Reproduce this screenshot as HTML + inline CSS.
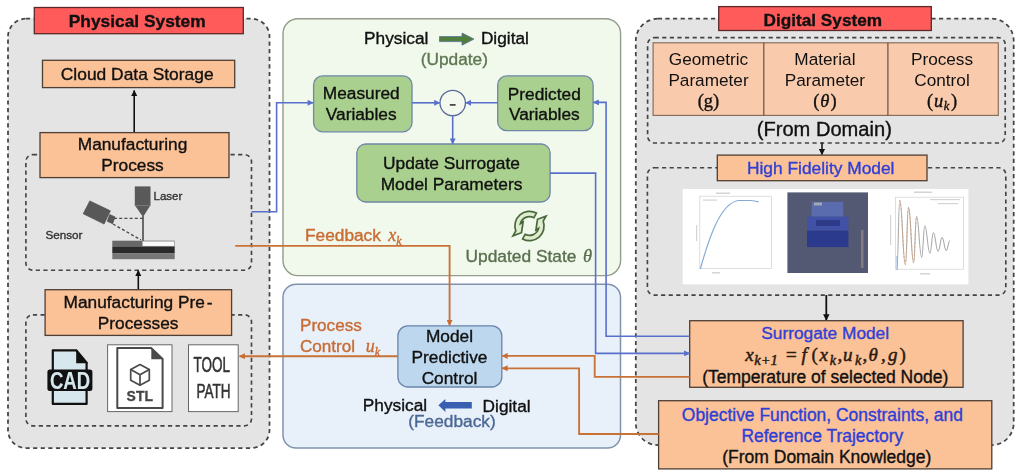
<!DOCTYPE html>
<html><head><meta charset="utf-8">
<style>
html,body{margin:0;padding:0;background:#fff;width:1024px;height:475px;overflow:hidden}
svg{display:block;filter:blur(0.5px)}
text{font-family:"Liberation Sans",sans-serif}
.s{font-family:"Liberation Serif",serif;font-style:italic}
.r{font-family:"Liberation Serif",serif}
</style></head><body>
<svg width="1024" height="475" viewBox="0 0 1024 475">
<defs>
<marker id="ab" viewBox="0 0 10 10" refX="9" refY="5" markerWidth="6.5" markerHeight="6" orient="auto" markerUnits="userSpaceOnUse"><path d="M0,0 L10,5 L0,10 z" fill="#5870cc"/></marker>
<marker id="ao" viewBox="0 0 10 10" refX="9" refY="5" markerWidth="6" markerHeight="6" orient="auto" markerUnits="userSpaceOnUse"><path d="M0,0 L10,5 L0,10 z" fill="#c96b33"/></marker>
<marker id="ak" viewBox="0 0 10 10" refX="9" refY="5" markerWidth="6.5" markerHeight="7" orient="auto" markerUnits="userSpaceOnUse"><path d="M0,0 L10,5 L0,10 z" fill="#111"/></marker>
</defs>

<!-- ============ PHYSICAL SYSTEM ============ -->
<rect x="8" y="18.7" width="261.5" height="429.3" rx="18" fill="#e5e4e5" stroke="#444" stroke-width="1.75" stroke-dasharray="4.2 3.4"/>
<rect x="34.3" y="7.5" width="209" height="26.2" fill="#ff5b5b" stroke="#5a2a2a" stroke-width="1.3"/>
<text x="137.2" y="26.9" font-size="17.35" font-weight="bold" text-anchor="middle" fill="#111" stroke="#111" stroke-width="0.36">Physical System</text>

<rect x="42.5" y="60.3" width="192.2" height="27.3" fill="#fbc298" stroke="#4e3e34" stroke-width="1.3"/>
<text x="137.2" y="80" font-size="17.4" text-anchor="middle" fill="#111" stroke="#111" stroke-width="0.36">Cloud Data Storage</text>

<line x1="134.2" y1="132.6" x2="134.2" y2="90.6" stroke="#111" stroke-width="1.6" marker-end="url(#ak)"/>

<rect x="25.9" y="154.6" width="225.6" height="115.6" rx="7" fill="none" stroke="#444" stroke-width="1.65" stroke-dasharray="4.2 3.4"/>
<rect x="40" y="132.6" width="189" height="45" fill="#fbc298" stroke="#4e3e34" stroke-width="1.3"/>
<text x="132.5" y="150.2" font-size="17.3" text-anchor="middle" fill="#111" stroke="#111" stroke-width="0.36">Manufacturing</text>
<text x="132.5" y="170.5" font-size="17.3" text-anchor="middle" fill="#111" stroke="#111" stroke-width="0.36">Process</text>

<!-- laser illustration -->
<rect x="134.8" y="186.4" width="15.7" height="18.9" fill="#595959"/>
<polygon points="134.8,205.3 150.5,205.3 143,217" fill="#595959"/>
<line x1="134.8" y1="205.6" x2="150.5" y2="205.6" stroke="#777" stroke-width="0.8"/>
<line x1="143" y1="216" x2="143" y2="241" stroke="#6a6a6a" stroke-width="2"/>
<text x="153.5" y="200.3" font-size="11.5" fill="#333" stroke="#333" stroke-width="0.36">Laser</text>
<polygon points="89.8,200.9 110.4,210.8 104.1,224.1 83.2,213.8" fill="#585858" stroke="#444" stroke-width="0.6"/>
<polygon points="109.7,214.5 115,216.9 112.6,223.7 107.3,221.3" fill="#585858" stroke="#3a3a3a" stroke-width="0.6"/>
<line x1="114" y1="218.4" x2="143" y2="218.4" stroke="#4a4a4a" stroke-width="1.4" stroke-dasharray="3 2.2"/>
<line x1="113" y1="224" x2="141" y2="240" stroke="#4a4a4a" stroke-width="1.4" stroke-dasharray="3 2.2"/>
<rect x="112.3" y="240.7" width="62.4" height="6" fill="#686868"/>
<rect x="142.5" y="241.2" width="31.8" height="5" fill="#fafafa" stroke="#aaa" stroke-width="0.6"/>
<rect x="112.3" y="246.6" width="62.4" height="6.8" fill="#2a2a2a"/>
<rect x="112.3" y="253.3" width="62.4" height="5.9" fill="#777"/>
<text x="45.4" y="238.7" font-size="11.7" fill="#333" stroke="#333" stroke-width="0.36">Sensor</text>

<line x1="138.3" y1="289.7" x2="138.3" y2="270.6" stroke="#111" stroke-width="1.6" marker-end="url(#ak)"/>

<rect x="25.9" y="314.8" width="225.6" height="111" rx="7" fill="none" stroke="#444" stroke-width="1.65" stroke-dasharray="4.2 3.4"/>
<rect x="45.1" y="289.7" width="186.5" height="45.7" fill="#fbc298" stroke="#4e3e34" stroke-width="1.3"/>
<text x="138.1" y="308.4" font-size="17.3" text-anchor="middle" fill="#111" stroke="#111" stroke-width="0.36">Manufacturing Pre<tspan dx="2">-</tspan></text>
<text x="138.1" y="328.8" font-size="17.3" text-anchor="middle" fill="#111" stroke="#111" stroke-width="0.36">Processes</text>

<!-- CAD icon -->
<path d="M52.8,350.3 L76.2,350.3 L86.6,362.8 L86.6,403.9 L52.8,403.9 Z" fill="#d6e8ee" stroke="#111" stroke-width="2.2" stroke-linejoin="round"/>
<polygon points="76.2,349.3 88,363.3 76.2,363.3" fill="#111"/>
<rect x="47.4" y="369.4" width="45" height="21.5" rx="2.5" fill="#111"/>
<text transform="translate(70.0,389.0) scale(0.8,1)" font-size="23.2" font-weight="bold" text-anchor="middle" fill="#d6e8ee" stroke="#d6e8ee" stroke-width="0.1">CAD</text>

<!-- STL icon -->
<rect x="107.6" y="344.8" width="64.4" height="66.8" fill="#fff" stroke="#666" stroke-width="1"/>
<path d="M117.3,348.1 L151.3,348.1 L162.6,359 L162.6,408 L117.3,408 Z" fill="#fff" stroke="#4a4a4a" stroke-width="2" stroke-linejoin="round"/>
<polygon points="151.3,347.3 163.6,359.3 151.3,359.3" fill="#4a4a4a"/>
<g fill="none" stroke="#4a4a4a" stroke-width="1.7" stroke-linejoin="round">
<path d="M140,364.5 L149.3,369.6 L149.3,380.2 L140,385.3 L130.7,380.2 L130.7,369.6 Z"/>
<path d="M130.7,369.6 L140,374.8 L149.3,369.6 M140,374.8 L140,385.3"/>
</g>
<text transform="translate(139.8,401) scale(0.92,1)" font-size="15.2" font-weight="bold" text-anchor="middle" fill="#444" stroke="#444" stroke-width="0.3">STL</text>

<!-- TOOL PATH -->
<rect x="188.5" y="344.8" width="49.7" height="66.8" fill="#fff" stroke="#666" stroke-width="1"/>
<text transform="translate(211.7,372.4) scale(0.63,1)" font-size="21.4" text-anchor="middle" fill="#333" stroke="#333" stroke-width="0.6">TOOL</text>
<text transform="translate(213.5,397.6) scale(0.66,1)" font-size="20.5" text-anchor="middle" fill="#333" stroke="#333" stroke-width="0.6">PATH</text>

<!-- ============ GREEN (UPDATE) ============ -->
<rect x="283" y="18.7" width="337.6" height="256.9" rx="15" fill="#f1f9ec" stroke="#939b8a" stroke-width="1.4"/>
<text x="364.1" y="44.4" font-size="17.3" fill="#111" stroke="#111" stroke-width="0.36">Physical</text>
<path d="M439.5,36.6 L462,36.6 L462,33 L474,39.1 L462,45.2 L462,41.6 L439.5,41.6 Z" fill="#4f7f3a" stroke="#5a6f9a" stroke-width="0.8"/>
<text x="480.9" y="44.4" font-size="17.3" fill="#111" stroke="#111" stroke-width="0.36">Digital</text>
<text x="454.3" y="64.6" font-size="17.3" text-anchor="middle" fill="#5e7852" stroke="#5e7852" stroke-width="0.36">(Update)</text>

<rect x="313.6" y="75.9" width="98.4" height="55.9" rx="9" fill="#a9d08e" stroke="#6f86a6" stroke-width="1.3"/>
<text x="361.2" y="99.3" font-size="17.3" text-anchor="middle" fill="#111" stroke="#111" stroke-width="0.36">Measured</text>
<text x="361.2" y="120.4" font-size="17.3" text-anchor="middle" fill="#111" stroke="#111" stroke-width="0.36">Variables</text>

<rect x="497.7" y="75.9" width="95.4" height="54.8" rx="9" fill="#a9d08e" stroke="#6f86a6" stroke-width="1.3"/>
<text x="544.3" y="99.5" font-size="17.3" text-anchor="middle" fill="#111" stroke="#111" stroke-width="0.36">Predicted</text>
<text x="544.3" y="119.7" font-size="17.3" text-anchor="middle" fill="#111" stroke="#111" stroke-width="0.36">Variables</text>

<circle cx="452.7" cy="103" r="12.7" fill="#f3f9ef" stroke="#5a6a9a" stroke-width="1.3"/>
<line x1="449.8" y1="104.9" x2="455.6" y2="104.9" stroke="#4a4a4a" stroke-width="1.8"/>

<rect x="356.8" y="144" width="193.3" height="58" rx="9" fill="#a9d08e" stroke="#6f86a6" stroke-width="1.3"/>
<text x="451.5" y="169.4" font-size="17.35" text-anchor="middle" fill="#111" stroke="#111" stroke-width="0.36">Update Surrogate</text>
<text x="451.5" y="189.8" font-size="17.35" text-anchor="middle" fill="#111" stroke="#111" stroke-width="0.36">Model Parameters</text>

<!-- refresh icon -->
<g fill="#dfeccf" stroke="#4a693a" stroke-width="1.7" stroke-linejoin="miter">
<path d="M536.4,213.1 A14.6,14.6 0 0 0 515.8,231.0 L513.0,235.9 L521.5,232.7 L523.1,222.0 L520.4,223.6 A9.4,9.4 0 0 1 533.9,217.7 Z"/>
<path transform="rotate(180 529.5 226)" d="M536.4,213.1 A14.6,14.6 0 0 0 515.8,231.0 L513.0,235.9 L521.5,232.7 L523.1,222.0 L520.4,223.6 A9.4,9.4 0 0 1 533.9,217.7 Z"/>
</g>
<text x="465.5" y="261.5" font-size="17.35" fill="#5a7050" stroke="#5a7050" stroke-width="0.36">Updated State <tspan class="s" font-size="18.5" dx="1.8">θ</tspan></text>

<!-- ============ BLUE (FEEDBACK) ============ -->
<rect x="283" y="284.2" width="337.5" height="163.8" rx="13" fill="#e8f0fa" stroke="#8092ae" stroke-width="1.5"/>
<rect x="397.9" y="325.8" width="103.9" height="61.2" rx="10" fill="#bdd7ee" stroke="#6a85aa" stroke-width="1.3"/>
<text x="449.5" y="341.5" font-size="17.3" text-anchor="middle" fill="#111" stroke="#111" stroke-width="0.36">Model</text>
<text x="449.5" y="362.5" font-size="17.3" text-anchor="middle" fill="#111" stroke="#111" stroke-width="0.36">Predictive</text>
<text x="449.5" y="383.6" font-size="17.3" text-anchor="middle" fill="#111" stroke="#111" stroke-width="0.36">Control</text>

<text x="300" y="331" font-size="17.1" fill="#c96b33" stroke="#c96b33" stroke-width="0.36">Process</text>
<text x="300" y="351.6" font-size="17.1" fill="#c96b33" stroke="#c96b33" stroke-width="0.36">Control <tspan class="s" dx="6" font-size="18">u</tspan><tspan class="s" font-size="12" dy="4">k</tspan></text>

<text x="362.8" y="410.8" font-size="17.3" fill="#111" stroke="#111" stroke-width="0.36">Physical</text>
<path d="M471.8,402 L445.4,402 L445.4,399 L438.4,405.3 L445.4,412 L445.4,408.6 L471.8,408.6 Z" fill="#3a5fb0"/>
<text x="482.6" y="411.8" font-size="17.3" fill="#111" stroke="#111" stroke-width="0.36">Digital</text>
<text x="452" y="427.4" font-size="17.3" text-anchor="middle" fill="#4b6894" stroke="#4b6894" stroke-width="0.36">(Feedback)</text>

<text x="305" y="241.2" font-size="17.3" fill="#c96b33" stroke="#c96b33" stroke-width="0.36">Feedback <tspan class="s" font-size="18" dx="2.5">x</tspan><tspan class="s" font-size="12" dy="4">k</tspan></text>

<!-- ============ DIGITAL SYSTEM ============ -->
<rect x="635.8" y="18.7" width="377.9" height="426.4" rx="22" fill="#e5e4e5" stroke="#444" stroke-width="1.75" stroke-dasharray="4.2 3.4"/>
<rect x="718.7" y="6.6" width="212.6" height="23.9" fill="#ff5b5b" stroke="#5a2a2a" stroke-width="1.3"/>
<text x="822.8" y="26" font-size="17.2" font-weight="bold" text-anchor="middle" fill="#111" stroke="#111" stroke-width="0.36">Digital System</text>

<rect x="647.6" y="37.6" width="357.6" height="105.4" rx="7" fill="none" stroke="#444" stroke-width="1.65" stroke-dasharray="4.2 3.4"/>
<rect x="653.1" y="42.8" width="345.2" height="72.6" fill="#f9cbac" stroke="#8a6e5c" stroke-width="1.2"/>
<line x1="763.8" y1="42.8" x2="763.8" y2="115.4" stroke="#6a5040" stroke-width="1.2"/>
<line x1="887.9" y1="42.8" x2="887.9" y2="115.4" stroke="#6a5040" stroke-width="1.2"/>
<g font-size="17.2" text-anchor="middle" fill="#111">
<text x="708.5" y="64.6">Geometric</text>
<text x="708.5" y="85.6">Parameter</text>
<text x="824.9" y="64.6">Material</text>
<text x="824.9" y="85.6">Parameter</text>
<text x="942" y="64.6">Process</text>
<text x="942" y="85.6">Control</text>
</g>
<text x="708.5" y="107.2" font-size="18.5" text-anchor="middle" fill="#111" class="r" stroke="#111" stroke-width="0.36">(g)</text>
<text x="824.9" y="107.2" font-size="18.5" text-anchor="middle" fill="#111" class="r" stroke="#111" stroke-width="0.36">(<tspan class="s" dx="1">θ</tspan><tspan dx="1">)</tspan></text>
<text x="942" y="107.2" font-size="18.5" text-anchor="middle" fill="#111" class="r" stroke="#111" stroke-width="0.36">(<tspan class="s" dx="1">u</tspan><tspan class="s" font-size="12.5" dy="3" dx="0.5">k</tspan><tspan dy="-3" dx="1.5">)</tspan></text>
<text x="824.3" y="135.9" font-size="20.1" text-anchor="middle" fill="#111" stroke="#111" stroke-width="0.36">(From Domain)</text>

<line x1="822" y1="142.4" x2="822" y2="154.5" stroke="#111" stroke-width="1.5" marker-end="url(#ak)"/>

<rect x="647.4" y="167.7" width="358.4" height="127.4" rx="7" fill="none" stroke="#444" stroke-width="1.65" stroke-dasharray="4.2 3.4"/>
<rect x="717.3" y="155.1" width="209.7" height="25.6" fill="#fbc298" stroke="#4e3e34" stroke-width="1.3"/>
<text x="820.7" y="173.7" font-size="17.35" text-anchor="middle" fill="#2f3fd6" stroke="#2f3fd6" stroke-width="0.36">High Fidelity Model</text>

<!-- images -->
<rect x="682.7" y="189" width="285.7" height="95.3" fill="#fff"/>
<g fill="none" stroke="#d0d0d0" stroke-width="0.7">
<rect x="699.8" y="196.2" width="71.8" height="72.4"/>
<rect x="895.6" y="197.2" width="68" height="72"/>
</g>
<g fill="#d4d4d4">
<rect x="716" y="192.5" width="14" height="1.5"/>
<rect x="703" y="199.5" width="14" height="1.2"/>
<rect x="696" y="225" width="1.2" height="16"/>
<rect x="712" y="272" width="8" height="1.5"/>
<rect x="914" y="191.5" width="18" height="1.5"/>
<rect x="930" y="199" width="30" height="1.2"/>
<rect x="938" y="203" width="20" height="1.2"/>
<rect x="890" y="215" width="1.2" height="30"/>
<rect x="920" y="273" width="10" height="1.5"/>
</g>
<path d="M700.3,269 C709,238 720,204 738,200.5 L751,200.5 C754,200.8 756,201.2 758.7,201.8" fill="none" stroke="#86acd6" stroke-width="1.2"/>
<rect x="787.4" y="192.4" width="80.6" height="80.6" fill="#535873"/>
<rect x="811.6" y="201.8" width="31.6" height="15" fill="#5a6cae"/>
<rect x="814" y="202.5" width="8" height="3" fill="#a0a8b0"/>
<rect x="807" y="216.6" width="41.4" height="14" fill="#4051a6"/>
<rect x="816" y="220" width="24" height="6" fill="#2d3b88"/>
<rect x="807" y="230.6" width="41.4" height="16.5" fill="#2c3a8e"/>
<rect x="861" y="230" width="2.5" height="38" fill="#9a8a88" opacity="0.7"/>
<path d="M897.0,268.0 C898.2,268.0 898.5,200.2 899.7,200.2 C902.3,200.2 902.8,264.5 905.4,264.5 C906.8,264.5 907.1,207.4 908.5,207.4 C910.8,207.4 911.3,262.5 913.6,262.5 C915.0,262.5 915.2,216.6 916.6,216.6 C918.9,216.6 919.4,257.4 921.7,257.4 C923.1,257.4 923.4,225.8 924.8,225.8 C927.1,225.8 927.6,253.3 929.9,253.3 C931.5,253.3 931.8,232.9 933.4,232.9 C935.5,232.9 936.0,251.3 938.1,251.3 C939.9,251.3 940.3,237.6 942.1,237.6 C943.9,237.6 944.4,250.5 946.2,250.5 C947.9,250.5 948.2,240.7 949.9,240.7" fill="none" stroke="#ababab" stroke-width="1.1"/>
<path d="M899.7,200.2 C902.3,200.2 902.8,264.5 905.4,264.5 C906.8,264.5 907.1,207.4 908.5,207.4 C910.8,207.4 911.3,262.5 913.6,262.5 C915.0,262.5 915.2,216.6 916.6,216.6" fill="none" stroke="#e0a070" stroke-width="0.8" stroke-dasharray="2 2"/>
<rect x="896.5" y="256" width="1.2" height="14" fill="#8ab0e0"/>
<line x1="826.3" y1="295" x2="826.3" y2="320" stroke="#111" stroke-width="1.8" marker-end="url(#ak)"/>

<rect x="689.7" y="320.7" width="273.4" height="66.6" fill="#fbc298" stroke="#4e3e34" stroke-width="1.3"/>
<text x="825.2" y="338.8" font-size="17.3" text-anchor="middle" fill="#2f3fd6" stroke="#2f3fd6" stroke-width="0.36">Surrogate Model</text>
<text x="825.2" y="382.5" font-size="17.5" text-anchor="middle" fill="#111" stroke="#111" stroke-width="0.36">(Temperature of selected Node)</text>
<g fill="#2a1a10" font-size="19" transform="translate(0,1.3)">
<text class="s" x="745.2" y="359.3" stroke="#2a1a10" stroke-width="0.5">x</text>
<text class="s" x="754.3" y="363.9" font-size="14.5" stroke="#2a1a10" stroke-width="0.45">k+1</text>
<text x="786" y="359.3" font-size="19" class="r" stroke="#2a1a10" stroke-width="0.6">=</text>
<text class="s" x="801.5" y="359.3" stroke="#2a1a10" stroke-width="0.5">f</text>
<text x="811.5" y="359.3" class="r" stroke="#2a1a10" stroke-width="0.4">(</text>
<text class="s" x="819.4" y="359.3" stroke="#2a1a10" stroke-width="0.5">x</text>
<text class="s" x="829.8" y="363.9" font-size="14" stroke="#2a1a10" stroke-width="0.45">k</text>
<text x="837.5" y="359.3" class="r" stroke="#2a1a10" stroke-width="0.5">,</text>
<text class="s" x="843" y="359.3" stroke="#2a1a10" stroke-width="0.5">u</text>
<text class="s" x="855" y="363.9" font-size="14" stroke="#2a1a10" stroke-width="0.45">k</text>
<text x="862.5" y="359.3" class="r" stroke="#2a1a10" stroke-width="0.5">,</text>
<text class="s" x="868.6" y="359.3" stroke="#2a1a10" stroke-width="0.5">θ</text>
<text x="881" y="359.3" class="r" stroke="#2a1a10" stroke-width="0.5">,</text>
<text class="s" x="887.9" y="359.3" stroke="#2a1a10" stroke-width="0.5">g</text>
<text x="899.5" y="359.3" class="r" stroke="#2a1a10" stroke-width="0.4">)</text>
</g>

<rect x="658.6" y="400.7" width="333.2" height="68.2" fill="#fbc298" stroke="#4e3e34" stroke-width="1.3"/>
<text x="822.4" y="421" font-size="17.46" text-anchor="middle" fill="#2f3fd6" stroke="#2f3fd6" stroke-width="0.36">Objective Function, Constraints, and</text>
<text x="822.4" y="441.8" font-size="17.46" text-anchor="middle" fill="#2f3fd6" stroke="#2f3fd6" stroke-width="0.36">Reference Trajectory</text>
<text x="826.8" y="462.6" font-size="17.5" text-anchor="middle" fill="#111" stroke="#111" stroke-width="0.36">(From Domain Knowledge)</text>

<!-- ============ CONNECTORS ============ -->
<g fill="none" stroke="#5870cc" stroke-width="1.6">
<polyline points="251.4,211.7 276.6,211.7 276.6,102.8 313,102.8" marker-end="url(#ab)"/>
<line x1="412" y1="102.8" x2="439.6" y2="102.8" marker-end="url(#ab)"/>
<line x1="497.7" y1="102.8" x2="465.8" y2="102.8" marker-end="url(#ab)"/>
<line x1="452.7" y1="115.7" x2="452.7" y2="143.8" marker-end="url(#ab)"/>
<polyline points="550.1,173.1 595.6,173.1 595.6,353.4 689.5,353.4" marker-end="url(#ab)"/>
<polyline points="689.7,336.3 606.1,336.3 606.1,102.4 593.5,102.4" marker-end="url(#ab)"/>
</g>
<g fill="none" stroke="#c97236" stroke-width="1.85">
<polyline points="235.2,245.9 449.6,245.9 449.6,325.3" marker-end="url(#ao)"/>
<line x1="397.9" y1="356.2" x2="239.5" y2="356.2" marker-end="url(#ao)"/>
<polyline points="689.7,376.8 594.7,376.8 594.7,355.9 502.2,355.9" marker-end="url(#ao)"/>
<polyline points="658.6,434 579.1,434 579.1,368.3 502.2,368.3" marker-end="url(#ao)"/>
</g>
</svg>
</body></html>
